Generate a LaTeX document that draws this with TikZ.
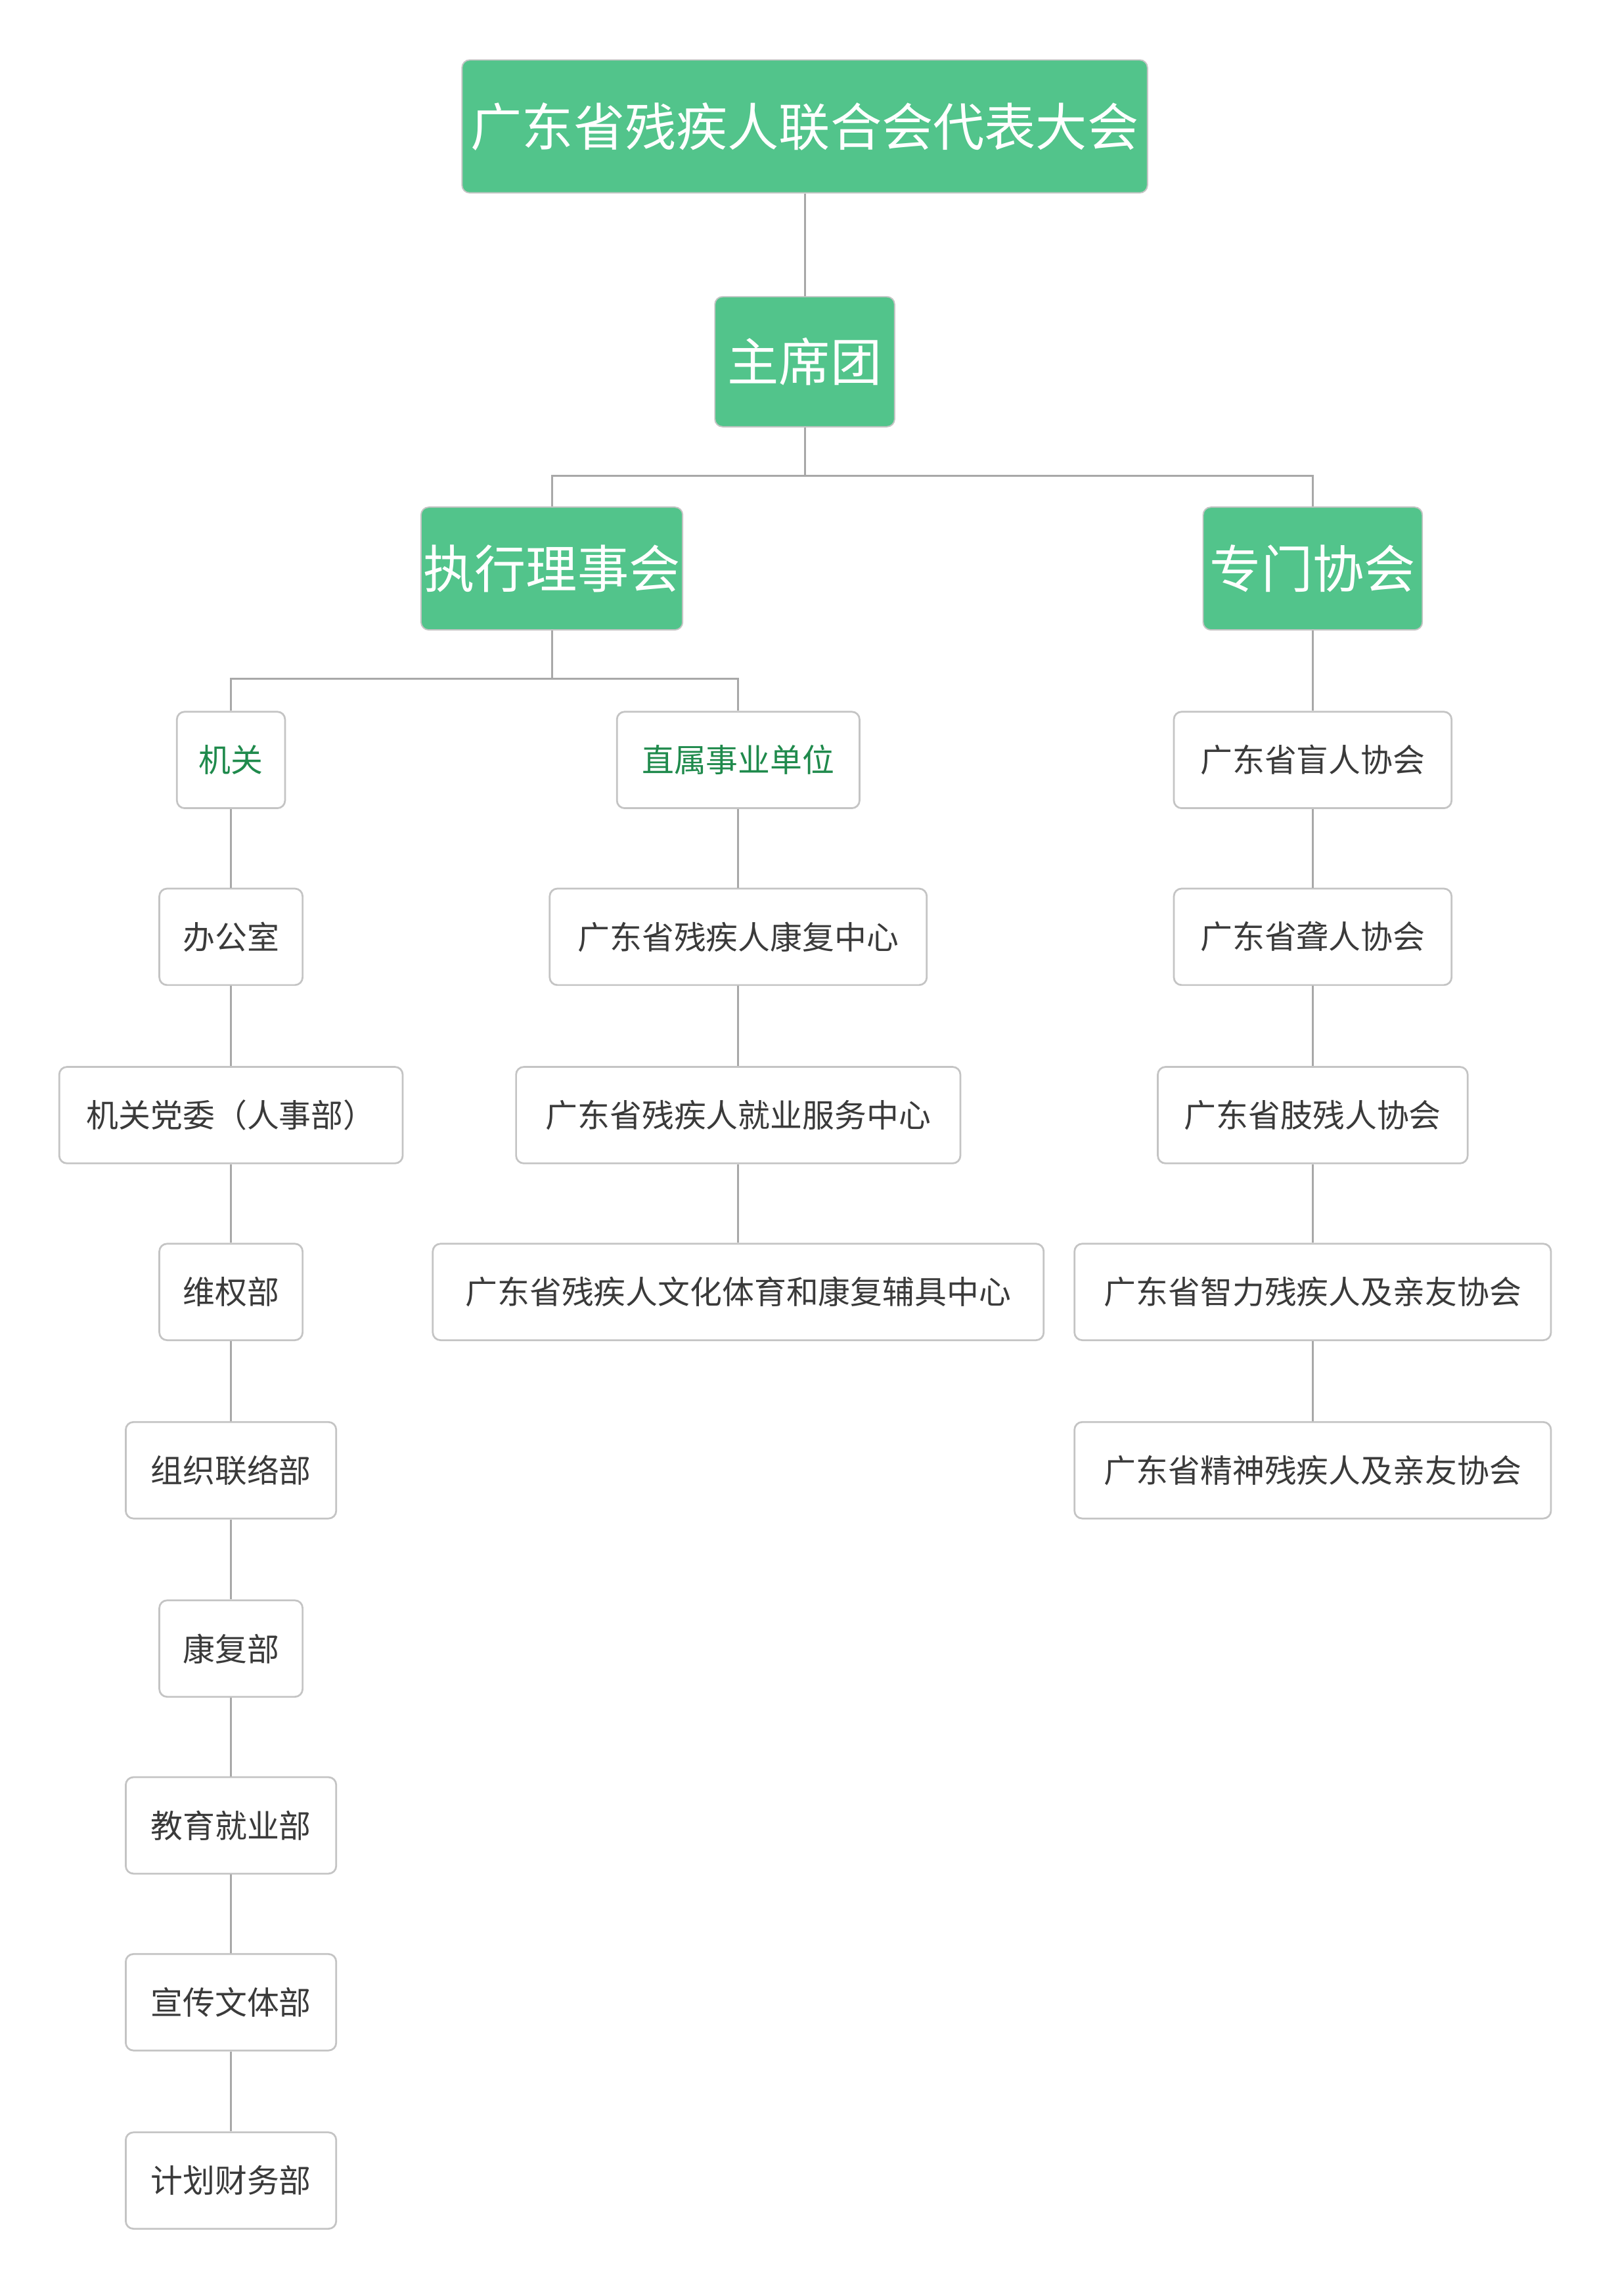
\documentclass[tikz,border=0pt]{standalone}
\usepackage{fontspec}
\setmainfont{Noto Sans CJK SC}
\definecolor{headgreen}{HTML}{52C48B}
\definecolor{linkgray}{HTML}{A8A8A8}
\definecolor{boxgray}{HTML}{C4C4C4}
\definecolor{textgray}{HTML}{3A3A3A}
\definecolor{labelgreen}{HTML}{1F8A4C}
\tikzset{
  head/.style={fill=headgreen, draw=boxgray, line width=0.5pt, rounded corners=3pt, text=white,
    font=\fontsize{20}{24}\selectfont, inner sep=0pt, minimum height=#1},
  unit/.style={fill=white, draw=boxgray, line width=0.7pt, rounded corners=3pt, text=textgray,
    font=\fontsize{12.5}{15}\selectfont, inner sep=0pt, minimum height=1.32cm, minimum width=#1},
  link/.style={draw=linkgray, line width=0.8pt}
}
\begin{document}
\begin{tikzpicture}[x=0.02cm, y=-0.02cm]
	\useasboundingbox (0,0) rectangle (1104,1571);
	% top levels
	\node[head=1.82cm, minimum width=9.38cm] (congress) at (550.5,86.5) {广东省残疾人联合会代表大会};
	\node[head=1.78cm, minimum width=2.46cm] (presidium) at (550.5,247.5) {主席团};
	\node[head=1.68cm, minimum width=3.58cm] (council) at (377.5,389) {执行理事会};
	\node[head=1.68cm, minimum width=3.00cm] (assoc) at (898,389) {专门协会};
	% left column
	\node[unit=1.48cm, text=labelgreen] (organ) at (158,520) {机关};
	\node[unit=1.96cm] (office) at (158,641) {办公室};
	\node[unit=4.70cm] (party) at (158,763) {机关党委（人事部）};
	\node[unit=1.96cm] (rights) at (158,884) {维权部};
	\node[unit=2.88cm] (liaison) at (158,1006) {组织联络部};
	\node[unit=1.96cm] (rehab) at (158,1128) {康复部};
	\node[unit=2.88cm] (edu) at (158,1249) {教育就业部};
	\node[unit=2.88cm] (culture) at (158,1370) {宣传文体部};
	\node[unit=2.88cm] (finance) at (158,1492) {计划财务部};
	% middle column
	\node[unit=3.32cm, text=labelgreen] (direct) at (505,520) {直属事业单位};
	\node[unit=5.16cm] (rehabctr) at (505,641) {广东省残疾人康复中心};
	\node[unit=6.08cm] (jobctr) at (505,763) {广东省残疾人就业服务中心};
	\node[unit=8.36cm] (sportctr) at (505,884) {广东省残疾人文化体育和康复辅具中心};
	% right column
	\node[unit=3.80cm] (blind) at (898,520) {广东省盲人协会};
	\node[unit=3.80cm] (deaf) at (898,641) {广东省聋人协会};
	\node[unit=4.24cm] (limb) at (898,763) {广东省肢残人协会};
	\node[unit=6.52cm] (mind) at (898,884) {广东省智力残疾人及亲友协会};
	\node[unit=6.52cm] (mental) at (898,1006) {广东省精神残疾人及亲友协会};
	% connectors
	\draw[link] (congress) -- (presidium);
	\draw[link] (presidium.south) -- +(0,33) -| (council.north);
	\draw[link] (presidium.south) -- +(0,33) -| (assoc.north);
	\draw[link] (council.south) -- +(0,33) -| (organ.north);
	\draw[link] (council.south) -- +(0,33) -| (direct.north);
	\draw[link] (assoc) -- (blind);
	\draw[link] (organ) -- (office) -- (party) -- (rights) -- (liaison) -- (rehab) -- (edu) -- (culture) -- (finance);
	\draw[link] (direct) -- (rehabctr) -- (jobctr) -- (sportctr);
	\draw[link] (blind) -- (deaf) -- (limb) -- (mind) -- (mental);
\end{tikzpicture}
\end{document}
